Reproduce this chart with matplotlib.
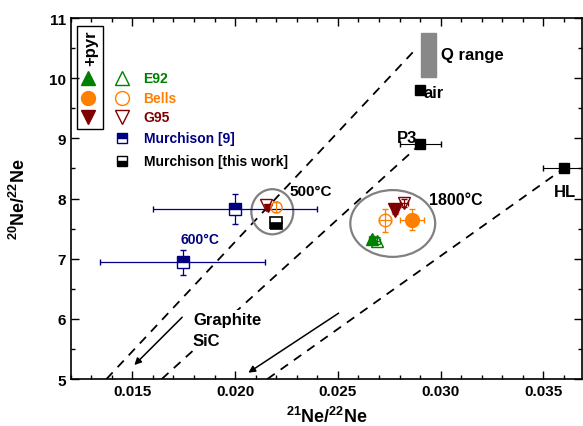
import matplotlib
matplotlib.use("Agg")
import matplotlib.pyplot as plt
from matplotlib.patches import Ellipse, Rectangle
from matplotlib.ticker import MultipleLocator

plt.rcParams['font.family'] = ['Liberation Sans', 'DejaVu Sans']
plt.rcParams['font.weight'] = 'bold'
plt.rcParams['mathtext.fontset'] = 'custom'
plt.rcParams['mathtext.rm'] = 'Liberation Sans'
plt.rcParams['mathtext.bf'] = 'Liberation Sans:bold'

GREEN = '#008000'
ORANGE = '#ff8000'
DRED = '#800000'
NAVY = '#000080'

# Murchison [9] (500 C, 600 C)
m9_x = [0.0200, 0.01744]
m9_y = [7.82, 6.94]
m9_xerr = [0.0040, 0.0040]
m9_yerr = [0.25, 0.21]

# Murchison [this work]
mtw_x = [0.0220]
mtw_y = [7.59]

# 500 C step
g95_500_open = (0.02149, 7.89)
g95_500_fill = (0.02160, 7.84)
bells_500_open = (0.02200, 7.86)

# 1800 C step: (x, y, xerr, yerr)
g95_open = (0.02820, 7.93, 0.00020, 0.07)
g95_fill = (0.02777, 7.81, 0.00015, 0.06)
bells_fill = (0.02861, 7.65, 0.00057, 0.17)
bells_open = (0.02728, 7.64, 0.00030, 0.19)
e92_fill = (0.02666, 7.32, 0.00015, 0.06)
e92_open = (0.02690, 7.30, 0.00015, 0.06)

# reference components
air = (0.0290, 9.80)
p3 = (0.0290, 8.90, 0.0010)
hl = (0.0360, 8.50, 0.0010)
q_range_x = (0.02906, 0.02977)
q_range_y = (10.02, 10.75)

# mixing lines
mix_lines = [((0.01374, 0.0287), (5.0, 10.45)),
             ((0.01643, 0.0290), (5.0, 8.90)),
             ((0.02157, 0.0360), (5.0, 8.50))]

fig = plt.figure(figsize=(5.83, 4.27), dpi=100)
ax = fig.add_axes([0.1213, 0.110, 0.8777, 0.8455])

for xs, ys in mix_lines:
    ax.plot(xs, ys, color='black', lw=1.3, dashes=(5, 4), zorder=1)

# arrows
ax.annotate('', xy=(0.0150, 5.2), xytext=(0.01752, 6.06),
            arrowprops=dict(arrowstyle='-|>', color='black', lw=1.1, mutation_scale=10))
ax.annotate('', xy=(0.02053, 5.08), xytext=(0.02515, 6.12),
            arrowprops=dict(arrowstyle='-|>', color='black', lw=1.1, mutation_scale=10))

# ellipses
ax.add_patch(Ellipse((0.02181, 7.78), 0.00204, 0.75, fill=False, ec='#808080', lw=1.6, zorder=2))
ax.add_patch(Ellipse((0.02767, 7.585), 0.00413, 1.11, fill=False, ec='#808080', lw=1.6, zorder=2))

# Q range
ax.add_patch(Rectangle((q_range_x[0], q_range_y[0]), q_range_x[1] - q_range_x[0],
                       q_range_y[1] - q_range_y[0], color='#888888', zorder=2))

# reference points
ax.plot(*air, 's', color='black', ms=7, zorder=4)
ax.errorbar(p3[0], p3[1], xerr=p3[2], fmt='s', color='black', ms=7, elinewidth=0.8, capsize=2, zorder=4)
ax.errorbar(hl[0], hl[1], xerr=hl[2], fmt='s', color='black', ms=7, elinewidth=0.8, capsize=2, zorder=4)

# Murchison [9]
ax.errorbar(m9_x, m9_y, xerr=m9_xerr, yerr=m9_yerr, fmt='s', color=NAVY, mfc=NAVY, mec=NAVY,
            fillstyle='top', markerfacecoloralt='white', ms=8, elinewidth=0.9, capsize=2.5, zorder=4)
# Murchison [this work]
ax.plot(mtw_x, mtw_y, 's', color='black', fillstyle='bottom', markerfacecoloralt='white',
        ms=8, mew=1.2, zorder=4)

# 500 C
ax.plot(*g95_500_fill, 'v', color=DRED, ms=6, zorder=4)
ax.plot(*g95_500_open, 'v', mfc='none', mec=DRED, ms=9, zorder=5)
ax.errorbar(*bells_500_open, yerr=0.08, fmt='o', mfc='none', mec=ORANGE, color=ORANGE,
            ms=8, elinewidth=0.9, capsize=2, zorder=5)

# 1800 C
def pt(p, m, c, filled, ms):
    ax.errorbar(p[0], p[1], xerr=p[2], yerr=p[3], fmt=m, color=c, mec=c,
                mfc=c if filled else 'none', ms=ms, elinewidth=0.9, capsize=2, zorder=5)

pt(e92_fill, '^', GREEN, True, 9)
pt(e92_open, '^', GREEN, False, 9)
pt(bells_open, 'o', ORANGE, False, 9)
pt(bells_fill, 'o', ORANGE, True, 10)
pt(g95_fill, 'v', DRED, True, 10)
pt(g95_open, 'v', DRED, False, 9)

# labels
ax.text(0.03, 10.4, 'Q range', fontsize=12, va='center', ha='left')
ax.text(0.02915, 9.77, 'air', fontsize=12, va='center', ha='left')
ax.text(0.02885, 9.02, 'P3', fontsize=12, va='center', ha='right')
ax.text(0.03607, 8.12, 'HL', fontsize=12, va='center', ha='center')
ax.text(0.02265, 8.13, '500°C', fontsize=11, va='center', ha='left')
ax.text(0.02945, 7.98, '1800°C', fontsize=11.5, va='center', ha='left')
ax.text(0.0183, 7.32, '600°C', fontsize=10, va='center', ha='center', color=NAVY)
ax.text(0.01795, 5.82, 'Graphite\nSiC', fontsize=12, va='center', ha='left', linespacing=1.5,
        bbox=dict(fc='white', ec='none', pad=1), zorder=3)

# legend (drawn by hand)
ax.add_patch(Rectangle((0.0117, 0.6925), 0.0521, 0.2855, transform=ax.transAxes,
                       fill=False, ec='black', lw=1.0, zorder=6))
ax.text(0.0385, 0.92, '+pyr', transform=ax.transAxes, rotation=90, fontsize=12,
        ha='center', va='center', zorder=6)
leg_rows = [('^', GREEN, 'E92', 0.834), ('o', ORANGE, 'Bells', 0.778), ('v', DRED, 'G95', 0.726)]
for m, c, lab, yy in leg_rows:
    ax.plot(0.0338, yy, m, color=c, ms=10, transform=ax.transAxes, clip_on=False, zorder=6)
    ax.plot(0.1003, yy, m, mfc='none', mec=c, ms=10, mew=1.0, transform=ax.transAxes, zorder=6)
    ax.text(0.1414, yy, lab, color=c, fontsize=10, va='center', transform=ax.transAxes, zorder=6)
ax.plot(0.1003, 0.668, 's', color=NAVY, fillstyle='top', markerfacecoloralt='white', ms=7,
        transform=ax.transAxes, zorder=6)
ax.text(0.1434, 0.668, 'Murchison [9]', color=NAVY, fontsize=10, va='center', transform=ax.transAxes)
ax.plot(0.1003, 0.604, 's', color='black', fillstyle='bottom', markerfacecoloralt='white', ms=7,
        transform=ax.transAxes, zorder=6)
ax.text(0.1434, 0.604, 'Murchison [this work]', color='black', fontsize=10, va='center',
        transform=ax.transAxes)

# axes
ax.set_xlim(0.012, 0.0369)
ax.set_ylim(5, 11)
ax.xaxis.set_major_locator(MultipleLocator(0.005))
ax.xaxis.set_minor_locator(MultipleLocator(0.001))
ax.yaxis.set_major_locator(MultipleLocator(1))
ax.yaxis.set_minor_locator(MultipleLocator(0.5))
ax.tick_params(which='both', direction='in', top=True, right=True, width=1.0)
ax.tick_params(which='major', length=6, labelsize=11)
ax.tick_params(which='minor', length=3)
ax.xaxis.set_major_formatter(plt.FuncFormatter(lambda v, p: f'{v:.3f}'))
for s in ax.spines.values():
    s.set_linewidth(1.2)
ax.set_xlabel(r'$\mathbf{^{21}Ne/^{22}Ne}$', fontsize=13, labelpad=6)
ax.set_ylabel(r'$\mathbf{^{20}Ne/^{22}Ne}$', fontsize=13, labelpad=14)

fig.savefig('out.png', dpi=100)
